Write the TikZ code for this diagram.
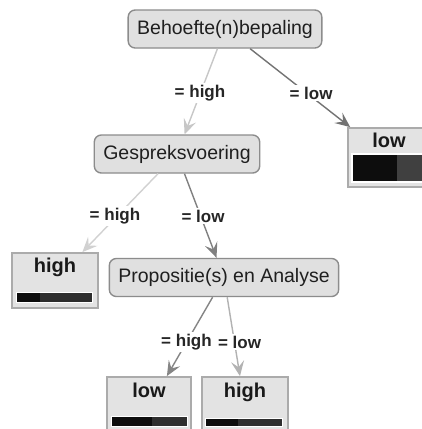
\documentclass[tikz,border=0pt]{standalone}
\usepackage{fontspec}
\setmainfont{Liberation Sans}
\usetikzlibrary{arrows.meta,calc}

\begin{document}
\begin{tikzpicture}[x=1pt,y=-1pt,
  split/.style={draw=black!45, fill=black!12, line width=1.4pt, rounded corners=7pt,
    inner xsep=9pt, inner ysep=0pt, minimum height=38pt,
    font=\fontsize{19.5}{20}\selectfont, text=black!88},
  leafbox/.style={draw=black!33, fill=black!11, line width=1.8pt, inner sep=0pt},
  leaftext/.style={font=\bfseries\fontsize{20}{20}\selectfont, text=black!90,
    inner sep=0pt, anchor=base},
  edgelbl/.style={font=\bfseries\fontsize{17}{17}\selectfont, fill=white,
    inner xsep=0.5pt, inner ysep=2pt, text=black!85},
  branch/.style={line width=1.4pt, -{Stealth[length=15pt,width=13pt,inset=6pt]}},
  barframe/.style={fill=white},
  bardark/.style={fill=black!95},
  barlight/.style={fill=black!82},
]
\path[use as bounding box, clip] (0,0) rectangle (422,429);
\fill[white] (0,0) rectangle (422,429);

% decision nodes
\node[split] (root) at (225,29) {Behoefte(n)bepaling};
\node[split] (gesp) at (177,154) {Gespreksvoering};
\node[split] (prop) at (224,277.5) {Propositie(s) en Analyse};

% leaves
\node[leafbox, minimum width=82pt, minimum height=59pt] (lowA) at (389,157.5) {};
\node[leafbox, minimum width=86pt, minimum height=55pt] (highA) at (55,280.5) {};
\node[leafbox, minimum width=84pt, minimum height=60pt] (lowB) at (149,407) {};
\node[leafbox, minimum width=86pt, minimum height=60pt] (highB) at (245,407) {};

\node[leaftext] (tlowA) at ($(lowA.north)+(0,20)$) {low};
\node[leaftext] (thighA) at ($(highA.north)+(0,20)$) {high};
\node[leaftext] (tlowB) at ($(lowB.north)+(0,21)$) {low};
\node[leaftext] (thighB) at ($(highB.north)+(0,21)$) {high};

% class distribution bars
\path[barframe] (351,153) rectangle (427,183);
\path[bardark] (353,155) rectangle (397,181);
\path[fill=black!75] (397,155) rectangle (425,181);

\path[barframe] (16,292) rectangle (93,303);
\path[bardark] (17,293) rectangle (40,302);
\path[barlight] (40,293) rectangle (92,302);

\path[barframe] (111,416) rectangle (188,427);
\path[bardark] (112,417) rectangle (152,426);
\path[barlight] (152,417) rectangle (187,426);

\path[barframe] (205,418) rectangle (283,427);
\path[bardark] (206,419) rectangle (238,426);
\path[barlight] (238,419) rectangle (282,426);

% branches
\draw[branch, draw=black!22] (root) -- (gesp);
\draw[branch, draw=black!55] (root) -- (lowA);
\draw[branch, draw=black!18] (gesp) -- (highA);
\draw[branch, draw=black!50] (gesp) -- (prop);
\draw[branch, draw=black!48] (prop) -- (lowB);
\draw[branch, draw=black!30] (prop) -- (highB);

% branch labels
\node[edgelbl] (l1) at (200,93) {= high};
\node[edgelbl] (l2) at (311,93) {= low};
\node[edgelbl] (l3) at (115,216) {= high};
\node[edgelbl] (l4) at (203,216) {= low};
\node[edgelbl] (l5) at (186.5,342) {= high};
\node[edgelbl] (l6) at (239.5,342) {= low};
\end{tikzpicture}
\end{document}
